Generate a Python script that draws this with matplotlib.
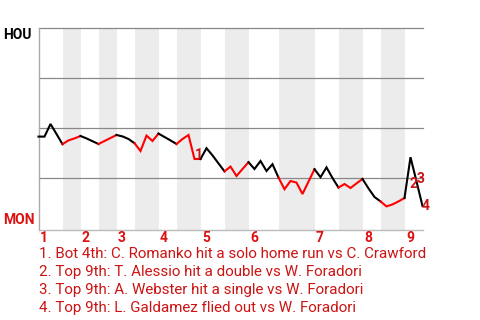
import matplotlib
matplotlib.use("Agg")
import matplotlib.pyplot as plt

plt.rcParams['font.family'] = ['Roboto', 'DejaVu Sans']

# HOU win probability (%) after each plate appearance
win_prob = [45.7, 45.7, 52.0, 47.0, 41.9, 43.8, 44.8, 46.0, 44.8, 43.4,
            42.0, 43.5, 45.0, 46.5, 45.8, 44.5, 42.4, 38.5, 46.2, 43.5,
            47.2, 45.5, 43.8, 42.0, 44.5, 46.5, 34.5, 34.5, 39.9, 36.3,
            32.3, 28.3, 30.7, 26.0, 29.5, 32.9, 29.5, 33.5, 28.5, 31.9,
            25.2, 19.4, 23.5, 22.7, 17.0, 23.2, 29.4, 25.4, 30.3, 25.0,
            20.2, 22.0, 20.0, 22.3, 24.5, 19.8, 15.5, 13.3, 10.8, 11.8,
            13.3, 15.0, 35.4, 23.3, 11.0]

# plate appearances per half inning (top 1st, bot 1st, top 2nd ...)
half_sizes = [4, 3, 3, 3, 3, 4, 3, 4, 4, 4, 5, 6, 4, 4, 3, 4, 3]

innings = ['1', '2', '3', '4', '5', '6', '7', '8', '9']

key_plays = ['1', '2', '3', '4']
key_text = [
    "1. Bot 4th: C. Romanko hit a solo home run vs C. Crawford",
    "2. Top 9th: T. Alessio hit a double vs W. Foradori",
    "3. Top 9th: A. Webster hit a single vs W. Foradori",
    "4. Top 9th: L. Galdamez flied out vs W. Foradori",
]
# where the marker numbers sit on the chart (event index, win prob)
key_pos = [(26.0, 34.5), (61.9, 20.0), (63.1, 22.5), (63.9, 9.0)]

RED = '#dd1111'
TXT_RED = '#cc1414'

fig = plt.figure(figsize=(4.8, 3.2), dpi=100)
ax = fig.add_axes([38.5 / 480, 1 - 229.5 / 320, 384 / 480, 201.5 / 320])

x = list(range(len(win_prob)))
n_events = len(win_prob) - 1

starts = [0]
for s in half_sizes:
    starts.append(starts[-1] + s)

for h in range(len(half_sizes)):
    a, b = starts[h], starts[h + 1]
    bottom = h % 2 == 1
    if bottom:
        ax.axvspan(a, b, color='#ececec', lw=0, zorder=0)
    ax.plot(x[a:b + 1], win_prob[a:b + 1], color='red' if bottom else 'black',
            lw=1.5, zorder=3, clip_on=False, solid_joinstyle='miter')

for g in [25, 50, 75, 100]:
    ax.axhline(g, color='#888888', lw=0.9, zorder=1, clip_on=False)

ax.set_xlim(0, n_events)
ax.set_ylim(-0.75, 100)
ax.set_xticks([])
ax.set_yticks([])
for side in ['top', 'right']:
    ax.spines[side].set_visible(False)
ax.spines['left'].set_color('#aaaaaa')
ax.spines['bottom'].set_color('#bbbbbb')
ax.spines['left'].set_linewidth(1.0)
ax.spines['bottom'].set_linewidth(1.0)

for i, lab in enumerate(innings):
    ax.text(starts[2 * i] + 0.25, -5, lab, color=RED, fontsize=10,
            fontweight='bold', ha='left', va='center', clip_on=False)

for lab, (px, py) in zip(key_plays, key_pos):
    ax.text(px, py, lab, color=TXT_RED, fontsize=10, fontweight='bold',
            ha='left', va='baseline', zorder=4, clip_on=False)

fig.text(3 / 480, 1 - 35 / 320, 'HOU', color='black', fontsize=10,
         fontweight='bold', ha='left', va='center')
fig.text(3 / 480, 1 - 220.5 / 320, 'MON', color=RED, fontsize=10,
         fontweight='bold', ha='left', va='center')

for k, line in enumerate(key_text):
    fig.text(39 / 480, 1 - (254 + 18 * k) / 320, line, color=TXT_RED,
             fontsize=10.9, ha='left', va='center')

fig.savefig('out.png', dpi=100)
